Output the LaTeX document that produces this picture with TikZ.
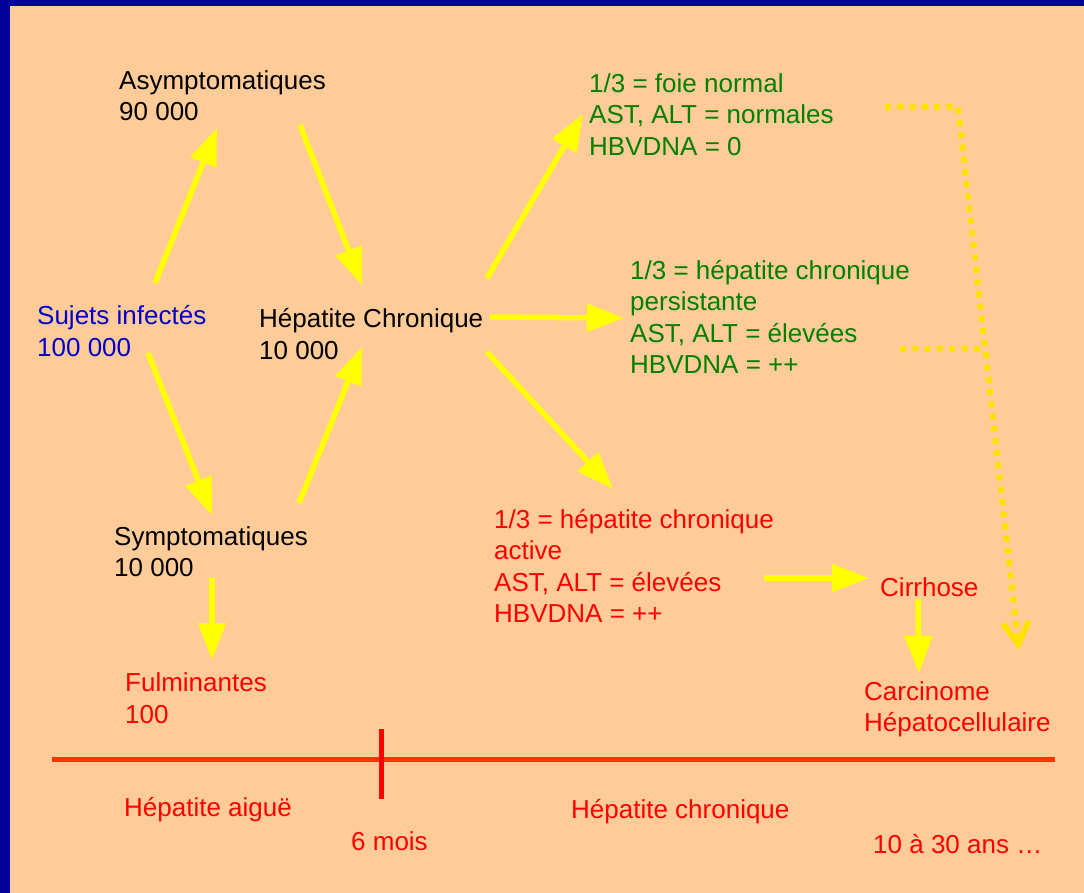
\documentclass[tikz,border=0pt]{standalone}
\usepackage{fontspec}
\setmainfont{Liberation Sans}
\usetikzlibrary{arrows.meta, calc}

\definecolor{peach}{RGB}{255,204,153}
\definecolor{frameblue}{RGB}{0,0,153}
\definecolor{txtblue}{RGB}{0,0,204}
\definecolor{txtgreen}{RGB}{0,128,0}
\definecolor{txtred}{RGB}{255,0,0}
\definecolor{lineorange}{RGB}{255,51,0}
\definecolor{arrowyellow}{RGB}{255,255,0}
\definecolor{dotyellow}{RGB}{255,225,0}

\begin{document}
\begin{tikzpicture}[
    x=1pt, y=1pt,
    every node/.style={font=\fontsize{26}{31.5}\selectfont, anchor=north west, inner sep=0pt, align=left},
    flow/.style={-{Triangle[length=37pt, width=27pt]}, line width=5.5pt, arrowyellow},
    dots/.style={line width=6pt, dotyellow, dash pattern=on 6pt off 6.3pt},
    timeline/.style={line width=5pt, lineorange},
    tick/.style={line width=5pt, txtred}
]

% Background and frame
\useasboundingbox (0,0) rectangle (1084,-893);
\fill[peach] (0,0) rectangle (1084,-893);
\fill[frameblue] (0,0) rectangle (10,-893);
\fill[frameblue] (0,0) rectangle (1084,-6);

% ============ LEFT: acute phase ============
\node[txtblue] (sujets) at (37,-305.3) {Sujets infectés\\100 000};
\node (asym) at (119,-70.3) {Asymptomatiques\\90 000};
\node (sympt) at (114,-526) {Symptomatiques\\10 000};
\node[txtred] (fulmi) at (125,-672.7) {Fulminantes\\100};
\node (hepchr) at (259,-308.3) {Hépatite Chronique\\10 000};

% ============ RIGHT: chronic outcomes ============
\node[txtgreen] (normal) at (589,-73.3) {1/3 = foie normal\\AST, ALT = normales\\HBVDNA = 0};
\node[txtgreen] (persist) at (630,-260) {1/3 = hépatite chronique\\persistante\\AST, ALT = élevées\\HBVDNA = ++};
\node[txtred] (active) at (494,-508.7) {1/3 = hépatite chronique\\active\\AST, ALT = élevées\\HBVDNA = ++};
\node[txtred] (cirrh) at (880,-577) {Cirrhose};
\node[txtred] (carci) at (864,-681) {Carcinome\\Hépatocellulaire};

% ============ ARROWS ============
\draw[flow] ($(sujets.north west)+(118,22.3)$) -- ($(asym.north west)+(98,-57.7)$);
\draw[flow] ($(asym.north west)+(181,-54.7)$) -- ($(hepchr.north west)+(103,23.3)$);
\draw[flow] ($(sujets.north west)+(111,-47.7)$) -- ($(sympt.north west)+(98,11)$);
\draw[flow] ($(sympt.north west)+(185,23)$) -- ($(hepchr.north west)+(103,-38.7)$);
\draw[flow] ($(sympt.north west)+(98,-52)$) -- ($(fulmi.north west)+(87,12.7)$);

\draw[flow] ($(hepchr.north west)+(228,30.3)$) -- ($(normal.north west)+(-6,-40.7)$);
\draw[flow] ($(hepchr.north west)+(231,-8.7)$) -- ($(persist.north west)+(-6,-58)$);
\draw[flow] ($(hepchr.north west)+(228,-43.7)$) -- ($(active.north west)+(119,19.7)$);
\draw[flow] ($(active.north west)+(270,-69.3)$) -- ($(cirrh.north west)+(-11,-1)$);
\draw[flow] ($(cirrh.north west)+(38,-22)$) -- ($(carci.north west)+(55,8)$);

% Dotted paths to carcinoma
\coordinate (bend) at ($(normal.north west)+(369,-33.7)$);
\coordinate (dtip) at ($(carci.north west)+(155,31)$);
\draw[dots, -{Straight Barb[length=22pt, width=26pt]}] ($(normal.north west)+(296,-33.7)$) -- (bend) -- (dtip);
\draw[dots] ($(persist.north west)+(270,-89)$) -- ($(bend)!0.4457!(dtip)$);

% ============ TIMELINE ============
\coordinate (t0) at (52,-759);
\coordinate (t1) at (1055,-759);
\draw[timeline] (t0) -- (t1);
\draw[tick] (381.5,-729) -- (381.5,-799);

\node[txtred] (aigue) at (124,-797) {Hépatite aiguë};
\node[txtred] (mois) at (351,-831.7) {6 mois};
\node[txtred] (chroni) at (571,-799.3) {Hépatite chronique};
\node[txtred] (ans) at (873,-833.7) {10 à 30 ans …};

\end{tikzpicture}
\end{document}
